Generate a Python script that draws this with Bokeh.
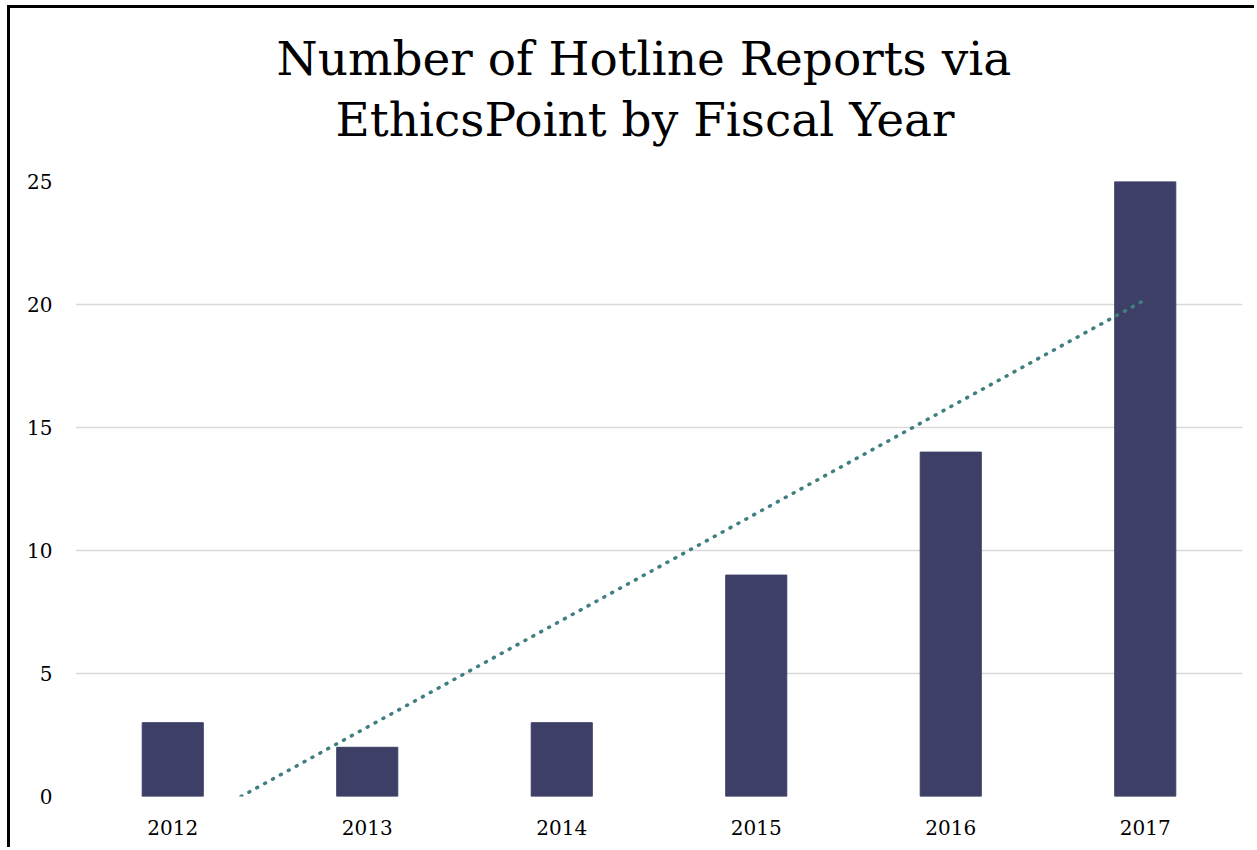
import numpy as np
from bokeh.plotting import figure
from bokeh.models import Range1d, FixedTicker, Title, ColumnDataSource
from bokeh.embed import file_html
from bokeh.resources import INLINE

years = ["2012", "2013", "2014", "2015", "2016", "2017"]
reports = [3, 2, 3, 9, 14, 25]
y_ticks = [0, 5, 10, 15, 20, 25]
title_lines = ["Number of Hotline Reports via", "EthicsPoint by Fiscal Year"]

xs = list(range(1, len(years) + 1))
slope, intercept = np.polyfit(xs, reports, 1)
x_start = max(xs[0] - 0.5, -intercept / slope)
trend_x = [x_start, xs[-1]]
trend_y = [slope * x + intercept for x in trend_x]

FONT = "DejaVu Serif"

p = figure(width=1247, height=842, output_backend="svg", toolbar_location=None,
           x_range=Range1d(0.5, 6.5), y_range=Range1d(0, 25),
           min_border_left=65, min_border_right=15, min_border_bottom=54,
           min_border_top=173)
p.styles = {"border-left": "3px solid #000", "border-top": "3px solid #000"}
p.margin = (5, 0, 0, 7)

p.title = None
spacer = Title(text=" ", standoff=8, text_font=FONT, text_font_size="19px")
t2 = Title(text=title_lines[1], align="left", offset=260, standoff=6, text_font=FONT,
           text_font_size="47px", text_font_style="normal", text_color="#000000")
t1 = Title(text=title_lines[0], align="left", offset=201, standoff=2, text_font=FONT,
           text_font_size="47px", text_font_style="normal", text_color="#000000")
p.add_layout(spacer, "above")
p.add_layout(t2, "above")
p.add_layout(t1, "above")

src = ColumnDataSource(dict(x=xs, top=reports))
p.vbar(x="x", top="top", width=0.314, source=src, color="#3d3f66")
p.line(trend_x, trend_y, line_color="#3f7f81", line_width=3.5, line_dash="1 8",
       line_cap="round")

p.outline_line_color = None
p.xgrid.grid_line_color = None
p.ygrid.grid_line_color = "#d9d9d9"
p.ygrid.grid_line_width = 1.5

p.xaxis.ticker = FixedTicker(ticks=xs)
p.xaxis.major_label_overrides = {x: y for x, y in zip(xs, years)}
p.yaxis.ticker = FixedTicker(ticks=y_ticks)
for ax in (p.xaxis[0], p.yaxis[0]):
    ax.axis_line_color = None
    ax.major_tick_line_color = None
    ax.minor_tick_line_color = None
    ax.major_label_text_font = FONT
    ax.major_label_text_font_size = "20px"
    ax.major_label_text_color = "#000000"
p.xaxis.major_label_standoff = 17
p.yaxis.major_label_standoff = 17

open("out.html", "w").write(file_html(p, INLINE))
